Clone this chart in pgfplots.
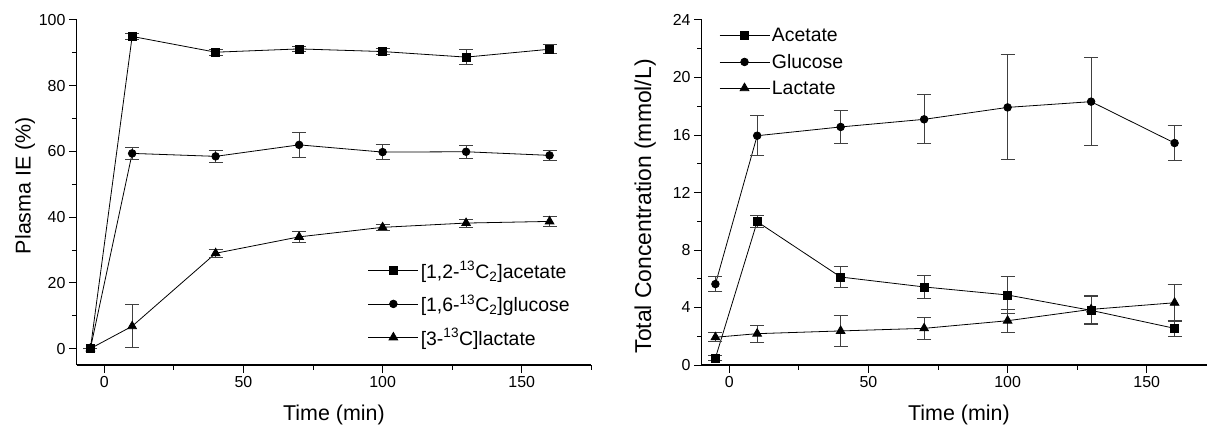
\documentclass[border=0pt]{standalone}
\usepackage{fontspec}
\setmainfont{Liberation Sans}
\usepackage{pgfplots}
\pgfplotsset{compat=1.18}
\pgfplotsset{
 common/.style={
  scale only axis, width=514.8bp, height=345bp,
  axis lines*=left,
  xmin=-10, xmax=175,
  xtick={0,50,100,150}, minor xtick={25,75,125,175},
  tick align=outside,
  major tick length=7.5bp, minor tick length=4.5bp,
  every tick/.style={black, line width=1pt},
  axis line style={line width=1.2pt},
  tick label style={font=\fontsize{16}{18}\selectfont},
  xlabel={Time (min)},
  xlabel style={font=\fontsize{21.5}{24}\selectfont, at={(axis description cs:0.5,-0.16)}, anchor=base},
  legend style={draw=none, fill=none, font=\fontsize{19.5}{22}\selectfont},
  legend cell align=left,
  legend image code/.code={\draw[##1,mark repeat=2,mark phase=2] plot coordinates {(0bp,0bp)(25bp,0bp)(50bp,0bp)};},
  /pgf/number format/assume math mode=true,
  clip=false,
 },
 ser/.style={black, line width=0.8pt, mark=#1, mark options={solid, fill=black},
   error bars/.cd, y dir=both, y explicit,
   error bar style={line width=1pt, black!75},
   error mark options={rotate=90, mark size=7bp, line width=1pt, black!75}},
}
\begin{document}
\begin{tikzpicture}[x=1bp,y=1bp]
\useasboundingbox (0,0) rectangle (1207,426);
\begin{axis}[common, at={(76.5bp,61bp)}, anchor=south west,
  ymin=-5, ymax=100, ytick={0,20,...,100}, minor ytick={10,30,50,70,90},
  ylabel={Plasma IE (\%)},
  ylabel style={font=\fontsize{21.5}{24}\selectfont, at={(axis description cs:-0.089,0.52)}, anchor=base},
  legend style={at={(axis description cs:0.56,0.313)}, anchor=north west, row sep=11bp},
]
\addplot[mark size=4bp, ser=square*] coordinates {
 (-5,0) +- (0,0) (10,95.0) +- (0,0.8) (40,90.2) +- (0,0.9) (70,91.2) +- (0,0.7)
 (100,90.4) +- (0,0.9) (130,88.7) +- (0,2.2) (160,91.1) +- (0,1.3)};
\addlegendentry{[1,2-\textsuperscript{13}C\textsubscript{2}]acetate}
\addplot[mark size=3.8bp, ser=*] coordinates {
 (-5,0) +- (0,0) (10,59.4) +- (0,1.9) (40,58.5) +- (0,1.8) (70,62.0) +- (0,3.8)
 (100,59.8) +- (0,2.2) (130,59.9) +- (0,1.9) (160,58.8) +- (0,1.5)};
\addlegendentry{[1,6-\textsuperscript{13}C\textsubscript{2}]glucose}
\addplot[mark size=5bp, ser=triangle*] coordinates {
 (-5,0) +- (0,0) (10,6.8) +- (0,6.6) (40,29.0) +- (0,1.3) (70,34.0) +- (0,1.6)
 (100,36.9) +- (0,1.0) (130,38.2) +- (0,1.2) (160,38.7) +- (0,1.4)};
\addlegendentry{[3-\textsuperscript{13}C]lactate}
\end{axis}
\begin{axis}[common, at={(701.5bp,61bp)}, anchor=south west,
  ymin=0, ymax=24, ytick={0,4,...,24}, minor ytick={2,6,...,22},
  ylabel={Total Concentration (mmol/L)},
  ylabel style={font=\fontsize{23}{26}\selectfont, at={(axis description cs:-0.098,0.46)}, anchor=base},
  legend style={at={(axis description cs:0.028,0.988)}, anchor=north west, row sep=7bp},
]
\addplot[mark size=4bp, ser=square*] coordinates {
 (-5,0.49) +- (0,0.15) (10,9.97) +- (0,0.4) (40,6.12) +- (0,0.7) (70,5.43) +- (0,0.8)
 (100,4.87) +- (0,1.3) (130,3.8) +- (0,1.0) (160,2.55) +- (0,0.55)};
\addlegendentry{Acetate}
\addplot[mark size=3.8bp, ser=*] coordinates {
 (-5,5.63) +- (0,0.55) (10,15.95) +- (0,1.4) (40,16.56) +- (0,1.15) (70,17.09) +- (0,1.7)
 (100,17.92) +- (0,3.65) (130,18.32) +- (0,3.05) (160,15.44) +- (0,1.2)};
\addlegendentry{Glucose}
\addplot[mark size=5bp, ser=triangle*] coordinates {
 (-5,1.93) +- (0,0.3) (10,2.18) +- (0,0.6) (40,2.37) +- (0,1.05) (70,2.55) +- (0,0.75)
 (100,3.08) +- (0,0.8) (130,3.87) +- (0,0.95) (160,4.33) +- (0,1.3)};
\addlegendentry{Lactate}
\end{axis}
\end{tikzpicture}
\end{document}
